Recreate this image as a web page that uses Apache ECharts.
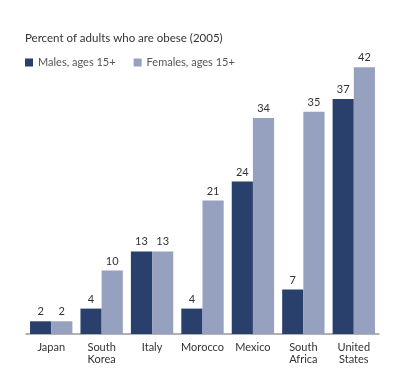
<!DOCTYPE html>
<html><head><meta charset="utf-8">
<script src="https://cdn.jsdelivr.net/npm/echarts@6/dist/echarts.min.js"></script>
<style>html,body{margin:0;padding:0;background:#fff}#c{width:400px;height:383px}</style>
</head><body><div id="c"></div>
<script>
const categories = ['Japan', 'South\nKorea', 'Italy', 'Morocco', 'Mexico', 'South\nAfrica', 'United\nStates'];
const males = [2, 4, 13, 4, 24, 7, 37];
const females = [2, 10, 13, 21, 34, 35, 42];
const titleText = 'Percent of adults who are obese (2005)';
const seriesNames = ['Males, ages 15+', 'Females, ages 15+'];
const colors = ['#293f6c', '#96a0bf'];
const font = 'Lato, "Open Sans", sans-serif';

const chart = echarts.init(document.getElementById('c'), null, {renderer: 'canvas'});
chart.setOption({
  animation: false,
  title: {text: titleText, left: 20, top: 27, textStyle: {fontFamily: font, fontSize: 11.5, fontWeight: 'normal', color: '#333'}},
  legend: {
    left: 20, top: 52, itemWidth: 8, itemHeight: 8, itemGap: 18, icon: 'rect',
    textStyle: {fontFamily: font, fontSize: 11, color: '#555'},
    data: seriesNames
  },
  grid: {left: 26, right: 21, top: 64, bottom: 49, containLabel: false},
  xAxis: {
    type: 'category', data: categories,
    axisLine: {lineStyle: {color: '#999', width: 1.5}},
    axisTick: {show: false},
    axisLabel: {interval: 0, fontFamily: font, fontSize: 11, color: '#333', lineHeight: 12, margin: 7}
  },
  yAxis: {type: 'value', min: 0, max: 42.5, show: false, splitLine: {show: false}},
  series: [
    {name: seriesNames[0], type: 'bar', data: males, barGap: '0%', barCategoryGap: '16%',
     itemStyle: {color: colors[0]},
     label: {show: true, position: 'top', distance: 4, fontFamily: font, fontSize: 11, color: '#333'}},
    {name: seriesNames[1], type: 'bar', data: females, barGap: '0%', barCategoryGap: '16%',
     itemStyle: {color: colors[1]},
     label: {show: true, position: 'top', distance: 4, fontFamily: font, fontSize: 11, color: '#333'}}
  ]
});
</script></body></html>
